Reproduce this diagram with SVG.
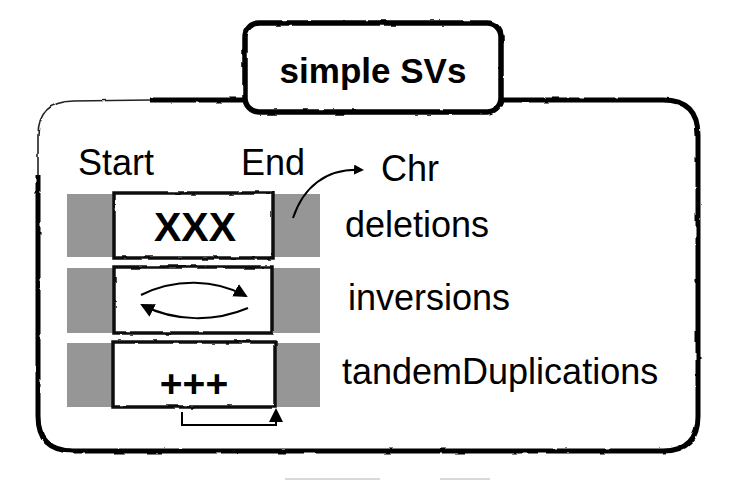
<svg xmlns="http://www.w3.org/2000/svg" width="736" height="480" viewBox="0 0 736 480">
<style>
.lbl{font-family:"Liberation Sans",Arial,Helvetica,sans-serif;font-size:36px;fill:#000}
.big{font-family:"Liberation Sans",Arial,Helvetica,sans-serif;font-weight:bold;fill:#000}
.bar{fill:#969696}
.box{fill:#fff;stroke:#111;stroke-width:3.5}
.line{fill:none;stroke:#000;stroke-width:2}
</style>
<defs>
<filter id="rough" x="-5%" y="-5%" width="110%" height="110%">
<feTurbulence type="fractalNoise" baseFrequency="0.08" numOctaves="2" seed="3" result="n"/>
<feDisplacementMap in="SourceGraphic" in2="n" scale="2.5" xChannelSelector="R" yChannelSelector="G"/>
</filter>
<marker id="ah" markerWidth="10" markerHeight="10" refX="8" refY="5" orient="auto" markerUnits="userSpaceOnUse">
<path d="M0,0 L10,5 L0,10 z" fill="#000"/>
</marker>
<marker id="ahb" markerWidth="14" markerHeight="14" refX="12" refY="7" orient="auto" markerUnits="userSpaceOnUse">
<path d="M0,0 L14,7 L0,14 z" fill="#000"/>
</marker>
</defs>
<rect width="736" height="480" fill="#fff"/>

<g id="outer-frame" filter="url(#rough)">
<path d="M150,100 L663,100 Q698,100 698,135 L698,416 Q698,451 663,451 L73,451 Q38,451 38,416 L38,175" fill="none" stroke="#000" stroke-width="5"/>
<path d="M38,175 L38,135 Q38,102 73,101 L150,100" fill="none" stroke="#222" stroke-width="1.6"/>
</g>

<g id="title">
<rect x="245" y="23" width="256" height="89" rx="14" fill="#fff" stroke="#000" stroke-width="5.5" filter="url(#rough)"/>
<text x="373" y="83" class="big" font-size="35" text-anchor="middle">simple SVs</text>
</g>

<g id="header-labels">
<text x="78" y="175" class="lbl">Start</text>
<text x="241" y="175" class="lbl">End</text>
<text x="381" y="181" class="lbl">Chr</text>
</g>

<g id="deletions">
<rect x="67" y="194" width="253" height="63" class="bar"/>
<rect x="114" y="193" width="159" height="65" class="box" filter="url(#rough)"/>
<text x="195" y="241" class="big" font-size="41" text-anchor="middle">XXX</text>
<text x="345" y="237" class="lbl">deletions</text>
</g>

<g id="inversions">
<rect x="67" y="268" width="253" height="65" class="bar"/>
<rect x="114" y="267" width="158" height="66" class="box" filter="url(#rough)"/>
<text x="348" y="310" class="lbl">inversions</text>
</g>

<g id="tandemDuplications">
<rect x="67" y="343" width="253" height="64" class="bar"/>
<rect x="113" y="342" width="162" height="65" class="box" filter="url(#rough)"/>
<text x="194" y="397" class="big" font-size="39" text-anchor="middle">+++</text>
<text x="342" y="384" class="lbl">tandemDuplications</text>
</g>

<g id="connectors">
<path d="M293,218 C303,188 325,168 362,170" class="line" marker-end="url(#ah)"/>
<path d="M141,295 C175,278 215,279 246,296" class="line" marker-end="url(#ahb)"/>
<path d="M248,308 C215,322 175,322 142,305" class="line" marker-end="url(#ahb)"/>
<path d="M182,412 L182,425 L276,425 L276,410" class="line" marker-end="url(#ahb)"/>
</g>

<g id="bottom-marks" stroke="#ccc" stroke-width="1.5">
<line x1="285" y1="479" x2="380" y2="479"/>
<line x1="440" y1="479" x2="490" y2="479"/>
</g>
</svg>
